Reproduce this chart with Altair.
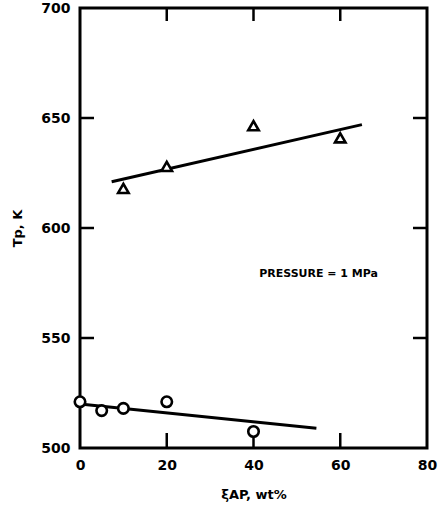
import altair as alt
import pandas as pd

# data
circ_x = [0, 5, 10, 20, 40]
circ_y = [521, 517, 518, 521, 507.5]
tri_x = [10, 20, 40, 60]
tri_y = [618, 628, 646.5, 641]
circ_fit_x = [0, 54.5]
circ_fit_y = [520, 509]
tri_fit_x = [7.3, 65]
tri_fit_y = [621, 647]
x_ticks = [20, 40, 60]
y_ticks = [550, 600, 650]

W, H = 347, 440
FONT = "DejaVu Sans"

xs = alt.Scale(domain=[0, 80], nice=False, zero=False)
ys = alt.Scale(domain=[500, 700], nice=False, zero=False)

xax = alt.Axis(values=[0, 20, 40, 60, 80], ticks=False, domain=False, grid=False,
               labelFlush=False, labelOverlap=False,
               labelFont=FONT, labelFontWeight="bold", labelFontSize=14, labelColor="black",
               labelPadding=10, title="ξAP, wt%", titleFont=FONT, titleFontWeight="bold",
               titleFontSize=13, titleColor="black", titlePadding=16)
yax = alt.Axis(values=[500, 550, 600, 650, 700], ticks=False, domain=False, grid=False,
               labelFlush=False, labelOverlap=False,
               labelFont=FONT, labelFontWeight="bold", labelFontSize=14, labelColor="black",
               labelPadding=10, title="Tp, K", titleFont=FONT, titleFontWeight="bold",
               titleFontSize=13, titleColor="black", titlePadding=16)

circ = pd.DataFrame({"x": circ_x, "y": circ_y})
tri = pd.DataFrame({"x": tri_x, "y": tri_y})
cfit = pd.DataFrame({"x": circ_fit_x, "y": circ_fit_y})
tfit = pd.DataFrame({"x": tri_fit_x, "y": tri_fit_y})
xt = pd.DataFrame({"v": x_ticks})
yt = pd.DataFrame({"v": y_ticks})
ann = pd.DataFrame({"x": [55], "y": [579], "t": ["PRESSURE = 1 MPa"]})

lines = alt.layer(
    alt.Chart(cfit).mark_line(color="black", strokeWidth=3).encode(
        x=alt.X("x:Q", scale=xs, axis=xax), y=alt.Y("y:Q", scale=ys, axis=yax)),
    alt.Chart(tfit).mark_line(color="black", strokeWidth=3).encode(
        x=alt.X("x:Q", scale=xs), y=alt.Y("y:Q", scale=ys)),
)

pts = alt.layer(
    alt.Chart(circ).mark_point(shape="circle", filled=True, fill="white", stroke="black",
                                strokeWidth=2.6, size=110, opacity=1).encode(
        x=alt.X("x:Q", scale=xs), y=alt.Y("y:Q", scale=ys)),
    alt.Chart(tri).mark_point(shape="triangle-up", filled=True, fill="white", stroke="black",
                               strokeWidth=2.6, size=110, opacity=1).encode(
        x=alt.X("x:Q", scale=xs), y=alt.Y("y:Q", scale=ys)),
)

ticks = alt.layer(
    alt.Chart(xt).mark_rule(color="black", strokeWidth=2.5).encode(
        x=alt.X("v:Q", scale=xs), y=alt.value(H), y2=alt.value(H - 15)),
    alt.Chart(xt).mark_rule(color="black", strokeWidth=2.5).encode(
        x=alt.X("v:Q", scale=xs), y=alt.value(0), y2=alt.value(13)),
    alt.Chart(yt).mark_rule(color="black", strokeWidth=2.5).encode(
        y=alt.Y("v:Q", scale=ys), x=alt.value(0), x2=alt.value(14)),
    alt.Chart(yt).mark_rule(color="black", strokeWidth=2.5).encode(
        y=alt.Y("v:Q", scale=ys), x=alt.value(W), x2=alt.value(W - 14)),
)

text = alt.Chart(ann).mark_text(font=FONT, fontWeight="bold", fontSize=11, color="black",
                                align="center", baseline="middle").encode(
    x=alt.X("x:Q", scale=xs), y=alt.Y("y:Q", scale=ys), text="t:N")

chart = alt.layer(lines, ticks, pts, text).properties(
    width=W, height=H,
    autosize=alt.AutoSizeParams(type="none"),
    padding={"left": 80, "top": 8, "right": 13, "bottom": 60},
    background="white",
).configure_view(stroke="black", strokeWidth=3)

chart.save("out.html", embed_options={"renderer": "svg", "actions": False})
